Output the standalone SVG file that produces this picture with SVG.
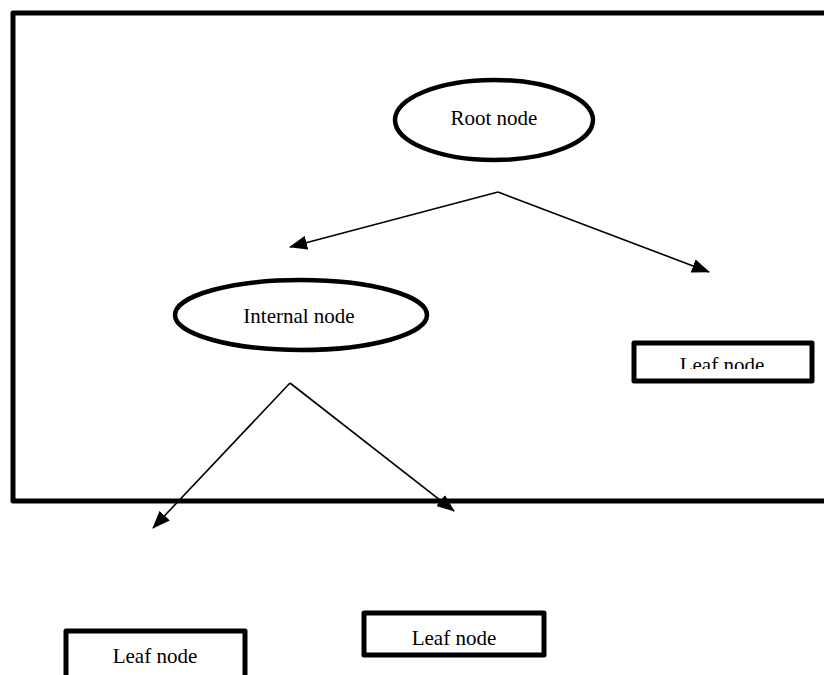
<svg xmlns="http://www.w3.org/2000/svg" width="824" height="675" viewBox="0 0 824 675">
<style>
.frame{fill:none;stroke:#000;stroke-width:5;stroke-linejoin:round}
.ell{fill:#fff;stroke:#000;stroke-width:4.5}
.box{fill:#fff;stroke:#000;stroke-width:5;stroke-linejoin:round}
.lbl{font-family:"Liberation Serif","Times New Roman",serif;font-size:21px;fill:#000;text-anchor:middle}
.edge{fill:none;stroke:#000;stroke-width:1.6;marker-end:url(#ah)}
</style>
<defs>
<marker id="ah" viewBox="0 0 18 14" markerWidth="18" markerHeight="14" refX="17" refY="7" orient="auto" markerUnits="userSpaceOnUse">
<path d="M0,0 L18,7 L0,14 z" fill="#000"/>
</marker>
<clipPath id="clipLeaf1"><rect x="634" y="344" width="178" height="25"/></clipPath>
</defs>
<rect width="824" height="675" fill="#fff"/>
<rect class="frame" x="13" y="13" width="830" height="488"/>
<g id="root">
<ellipse class="ell" cx="494" cy="120" rx="99" ry="40"/>
<text class="lbl" x="494" y="125">Root node</text>
</g>
<g id="internal">
<ellipse class="ell" cx="301" cy="315" rx="126" ry="35"/>
<text class="lbl" x="299" y="323">Internal node</text>
</g>
<g id="leaf1">
<rect class="box" x="634" y="343" width="178" height="38"/>
<text class="lbl" x="722" y="372" clip-path="url(#clipLeaf1)">Leaf node</text>
</g>
<g id="leaf2">
<rect class="box" x="66" y="631" width="179" height="60"/>
<text class="lbl" x="155" y="663">Leaf node</text>
</g>
<g id="leaf3">
<rect class="box" x="364" y="613" width="180" height="42"/>
<text class="lbl" x="454" y="645">Leaf node</text>
</g>
<g id="connectors">
<line class="edge" x1="498" y1="192" x2="290" y2="247"/>
<line class="edge" x1="498" y1="192" x2="709" y2="272"/>
<line class="edge" x1="290" y1="383" x2="153" y2="528"/>
<line class="edge" x1="290" y1="383" x2="454" y2="511"/>
</g>
</svg>
